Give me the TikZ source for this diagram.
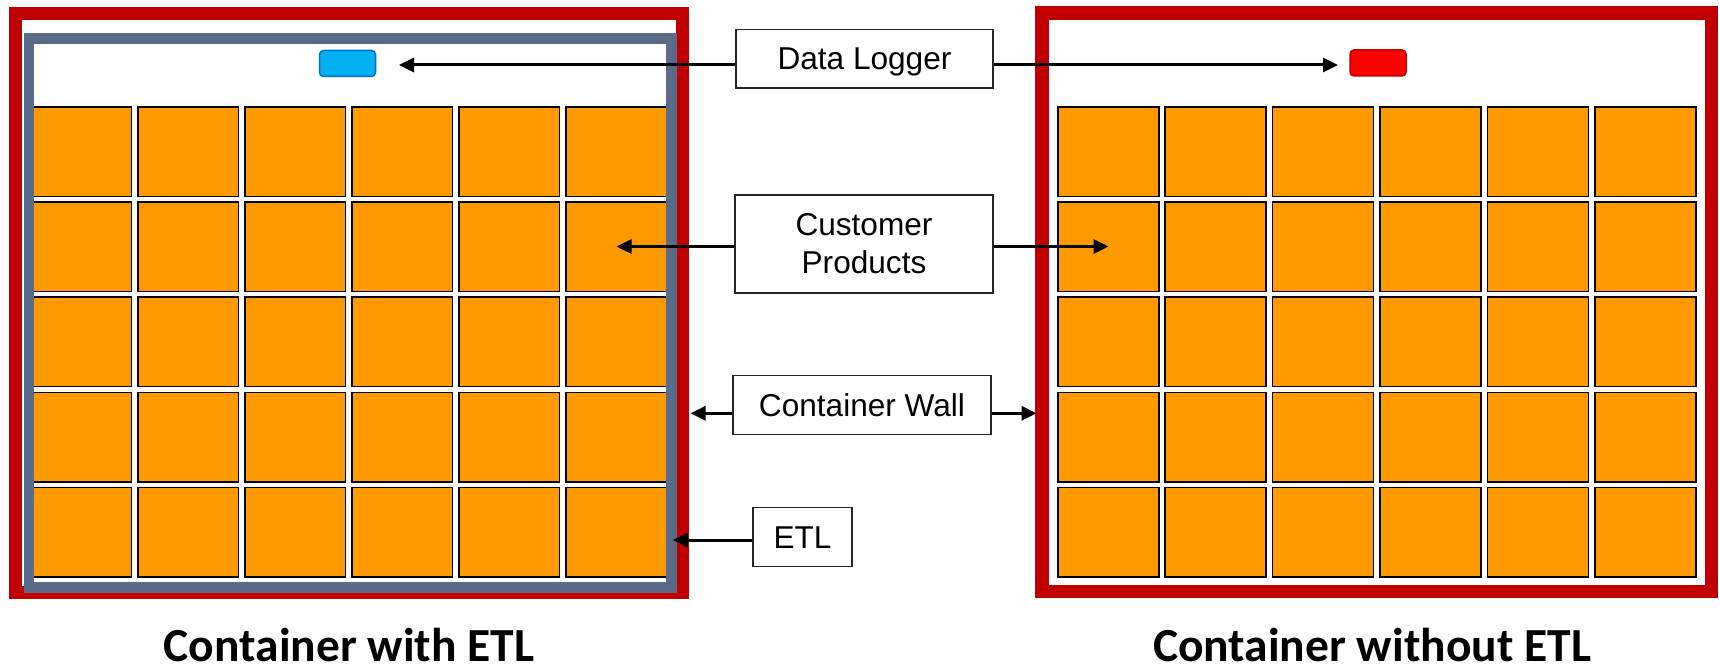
\documentclass[tikz,border=0pt]{standalone}
\usepackage{fontspec}
\setmainfont{Liberation Sans}
\newfontfamily\capfont{Carlito}
\usetikzlibrary{arrows.meta}
\definecolor{framered}{RGB}{192,0,0}
\definecolor{etlc}{RGB}{89,107,136}
\definecolor{prodc}{RGB}{255,153,0}
\definecolor{blueA}{RGB}{0,176,240}
\definecolor{blueB}{RGB}{0,112,192}
\definecolor{redA}{RGB}{255,0,0}
\definecolor{redB}{RGB}{192,0,0}
\begin{document}
\begin{tikzpicture}[x=1bp,y=-1bp,
  prod/.style={draw=black, fill=prodc, line width=1.5bp, minimum width=100.5bp, minimum height=89.5bp, inner sep=0pt, outer sep=0pt, anchor=north west},
  lbl/.style={draw=black!85, line width=1.5bp, fill=white, inner sep=0pt, text depth=0pt, font=\fontsize{31.6bp}{38bp}\selectfont, align=center},
  arr/.style={line width=3bp, -{Triangle[length=15bp,width=14bp]}},
  captext/.style={font=\capfont\bfseries\fontsize{47.5bp}{50bp}\selectfont, inner sep=0pt, anchor=base},
  logger/.style={line width=1.5bp, rounded corners=4bp, minimum width=56bp, minimum height=26bp, inner sep=0pt},
  wallA/.style={draw=framered, line width=13bp, fill=white},
  etlwall/.style={draw=etlc, line width=10.5bp}]
\useasboundingbox (0,0) rectangle (1719,670);
\fill[white] (0,0) rectangle (1719,670);

% left container
\draw[wallA] (15.5,13.5) rectangle (682.5,592.5);
\foreach \c in {0,...,5}{\foreach \r in {0,...,4}{
  \pgfmathsetmacro\bx{30.75+107*\c}
  \pgfmathsetmacro\by{107+95.1*\r}
  \node[prod] (L\c\r) at (\bx,\by) {};
}}
\draw[etlwall] (29,38.5) rectangle (671.5,587.5);
\node[logger, draw=blueB, fill=blueA] (logA) at (347.5,63.5) {};

% right container
\draw[wallA, line width=13.5bp] (1042,13) rectangle (1711.5,591.5);
\foreach \c in {0,...,5}{\foreach \r in {0,...,4}{
  \pgfmathsetmacro\bx{1057.75+107.4*\c}
  \pgfmathsetmacro\by{107+95.1*\r}
  \node[prod, minimum width=101bp] (R\c\r) at (\bx,\by) {};
}}
\node[logger, draw=redB, fill=redA] (logB) at (1378,63) {};

% labels
\node[lbl, minimum width=257bp, minimum height=58.5bp] (dl) at (864.5,58.75) {Data Logger};
\node[lbl, minimum width=258bp, minimum height=97.7bp] (cp) at (864,243.9) {Customer\\Products};
\node[lbl, minimum width=258bp, minimum height=59bp] (cw) at (862,405.2) {Container Wall};
\node[lbl, minimum width=99bp, minimum height=59bp] (etl) at (802.5,537.2) {ETL};

% arrow targets
\coordinate (dlL) at (399,65);
\coordinate (dlR) at (1338,65);
\coordinate (cpL) at (616.5,246.5);
\coordinate (cpR) at (1108.5,246.5);
\coordinate (cwL) at (690.5,413.3);
\coordinate (cwR) at (1036.5,413.3);
\coordinate (etlT) at (673,540);

\draw[arr] (dl.west |- dlL) -- (dlL);
\draw[arr] (dl.east |- dlR) -- (dlR);
\draw[arr] (cp.west |- cpL) -- (cpL);
\draw[arr] (cp.east |- cpR) -- (cpR);
\draw[arr] (cw.west |- cwL) -- (cwL);
\draw[arr] (cw.east |- cwR) -- (cwR);
\draw[arr] (etl.west |- etlT) -- (etlT);

% captions
\node[captext] (capA) at (349,661) {Container with ETL};
\node[captext] (capB) at (1372,661) {Container without ETL};
\end{tikzpicture}
\end{document}
